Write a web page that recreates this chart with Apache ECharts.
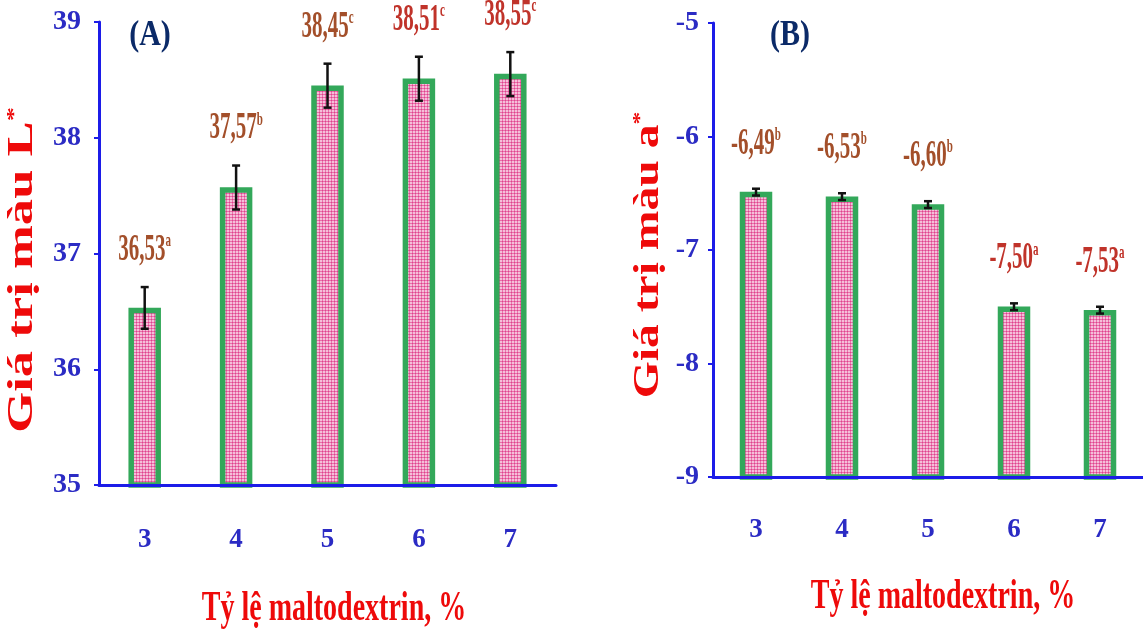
<!DOCTYPE html>
<html lang="vi">
<head>
<meta charset="utf-8">
<title>Giá trị màu L* và a* theo tỷ lệ maltodextrin</title>
<script src="https://cdn.jsdelivr.net/npm/echarts@6/dist/echarts.min.js"></script>
<style>
  html, body { margin: 0; padding: 0; background: #fff; }
  #main { width: 1143px; height: 633px; }
</style>
</head>
<body>
<div id="main"></div>
<script type="text/javascript">
// tỷ lệ maltodextrin (%)
var categories = ['3', '4', '5', '6', '7'];

// (A) giá trị màu L*
var valuesL = [36.53, 37.57, 38.45, 38.51, 38.55];
var errorsL = [0.18, 0.19, 0.19, 0.19, 0.19];
var lettersL = ['a', 'b', 'c', 'c', 'c'];
var ticksL = [35, 36, 37, 38, 39];

// (B) giá trị màu a*
var valuesA = [-6.49, -6.53, -6.60, -7.50, -7.53];
var errorsA = [0.03, 0.03, 0.03, 0.03, 0.03];
var lettersA = ['b', 'b', 'b', 'a', 'a'];
var ticksA = [-9, -8, -7, -6, -5];

// mau chu cua nhan
var labelColorsL = ['#a34f2a', '#a34f2a', '#a34f2a', '#c0332a', '#c0332a'];
var labelColorsA = ['#a34f2a', '#a34f2a', '#a34f2a', '#c0332a', '#c0332a'];

var FONT = 'Liberation Serif';
var BLUE = '#1c1ce8';

// hoa van cham hong cho cot
var pat = document.createElement('canvas');
pat.width = 6; pat.height = 6;
var pctx = pat.getContext('2d');
pctx.fillStyle = '#fde9f3';
pctx.fillRect(0, 0, 6, 6);
pctx.fillStyle = '#e0418d';
[[1.5, 1.5], [4.5, 1.5], [1.5, 4.5], [4.5, 4.5]].forEach(function (p) {
  pctx.beginPath();
  pctx.arc(p[0], p[1], 1.2, 0, Math.PI * 2);
  pctx.fill();
});

function barRender(yMin) {
  return function (params, api) {
    var i = api.value(0);
    var top = api.coord([i, api.value(1)]);
    var base = api.coord([i, yMin]);
    var w = 27;
    return {
      type: 'rect',
      shape: { x: top[0] - w / 2, y: top[1] + 2.5, width: w, height: base[1] - top[1] - 2.5 },
      style: { fill: { image: pat, repeat: 'repeat' }, stroke: '#33a85a', lineWidth: 5.5 }
    };
  };
}

function errRender(letters, colors, offset) {
  return function (params, api) {
    var idx = params.dataIndex;
    var i = api.value(0), v = api.value(1), e = api.value(2);
    var hi = api.coord([i, v + e]);
    var lo = api.coord([i, v - e]);
    var x = hi[0];
    var ln = { stroke: '#111', lineWidth: 2.5 };
    var txt = v.toFixed(2).replace('.', ',');
    var c = colors[idx];
    return {
      type: 'group',
      children: [
        { type: 'line', shape: { x1: x, y1: hi[1], x2: x, y2: lo[1] }, style: ln },
        { type: 'line', shape: { x1: x - 4, y1: hi[1], x2: x + 4, y2: hi[1] }, style: ln },
        { type: 'line', shape: { x1: x - 4, y1: lo[1], x2: x + 4, y2: lo[1] }, style: ln },
        {
          type: 'text', x: x, y: hi[1] - offset, scaleY: 1.8,
          style: {
            text: '{v|' + txt + '}{s|' + letters[idx] + '}',
            align: 'center', verticalAlign: 'bottom',
            rich: {
              v: { fontFamily: FONT, fontWeight: 'bold', fontSize: 21, lineHeight: 21, fill: c },
              s: { fontFamily: FONT, fontWeight: 'bold', fontSize: 11, lineHeight: 11, fill: c, verticalAlign: 'top' }
            }
          }
        }
      ]
    };
  };
}

function xAxisOf(g, margin) {
  return {
    gridIndex: g, type: 'category', data: categories, z: 10,
    axisLine: { lineStyle: { color: BLUE, width: 3 } },
    axisTick: { alignWithLabel: true, length: 8, lineStyle: { color: BLUE, width: 2 } },
    axisLabel: { color: '#2b2bc4', fontFamily: FONT, fontWeight: 'bold', fontSize: 27, margin: margin }
  };
}

function yAxisOf(g, ticks, margin) {
  return {
    gridIndex: g, type: 'value', z: 10,
    min: ticks[0], max: ticks[ticks.length - 1], interval: ticks[1] - ticks[0],
    axisLine: { show: true, lineStyle: { color: BLUE, width: 3, cap: 'round' } },
    axisTick: { show: true, length: 5, lineStyle: { color: BLUE, width: 2 } },
    splitLine: { show: false },
    axisLabel: { color: '#2b2bc4', fontFamily: FONT, fontWeight: 'bold', fontSize: 28, margin: margin }
  };
}

function titleText(x, y, main, sup, rot, sx, sy) {
  return {
    type: 'text', x: x, y: y, rotation: rot, scaleX: sx, scaleY: sy,
    style: {
      text: '{t|' + main + '}{s|' + sup + '}',
      align: 'center', verticalAlign: 'middle',
      rich: {
        t: { fontFamily: FONT, fontWeight: 'bold', fontSize: 28, lineHeight: 28, fill: '#ee0a0a' },
        s: { fontFamily: FONT, fontWeight: 'bold', fontSize: 15, lineHeight: 15, fill: '#ee0a0a', verticalAlign: 'top' }
      }
    }
  };
}

function panelText(x, y, t) {
  return {
    type: 'text', x: x, y: y, scaleY: 1.2,
    style: { text: t, align: 'center', verticalAlign: 'middle', fill: '#0b2a68',
      font: 'bold 30px "' + FONT + '"' }
  };
}

var chart = echarts.init(document.getElementById('main'));
var option = {
  animation: false,
  backgroundColor: '#fff',
  grid: [
    { left: 99, top: 22, width: 457, height: 463 },
    { left: 713, top: 23, width: 437, height: 454 }
  ],
  xAxis: [xAxisOf(0, 42), xAxisOf(1, 40)],
  yAxis: [yAxisOf(0, ticksL, 18), yAxisOf(1, ticksA, 14)],
  graphic: [
    panelText(150, 36, '(A)'),
    panelText(790, 36, '(B)'),
    titleText(23, 270, 'Giá trị màu L', '*', Math.PI / 2, 1.88, 1.25),
    titleText(649, 255, 'Giá trị màu a', '*', Math.PI / 2, 1.7, 1.25),
    titleText(334, 609, 'Tỷ lệ maltodextrin, %', '', 0, 1.0, 1.5),
    titleText(943, 597, 'Tỷ lệ maltodextrin, %', '', 0, 1.0, 1.5)
  ],
  series: [
    {
      type: 'custom', xAxisIndex: 0, yAxisIndex: 0,
      renderItem: barRender(ticksL[0]),
      data: valuesL.map(function (v, i) { return [i, v]; })
    },
    {
      type: 'custom', xAxisIndex: 0, yAxisIndex: 0, z: 3,
      renderItem: errRender(lettersL, labelColorsL, 18),
      data: valuesL.map(function (v, i) { return [i, v, errorsL[i]]; })
    },
    {
      type: 'custom', xAxisIndex: 1, yAxisIndex: 1,
      renderItem: barRender(ticksA[0]),
      data: valuesA.map(function (v, i) { return [i, v]; })
    },
    {
      type: 'custom', xAxisIndex: 1, yAxisIndex: 1, z: 3,
      renderItem: errRender(lettersA, labelColorsA, 26),
      data: valuesA.map(function (v, i) { return [i, v, errorsA[i]]; })
    }
  ]
};
chart.setOption(option);
</script>
</body>
</html>
